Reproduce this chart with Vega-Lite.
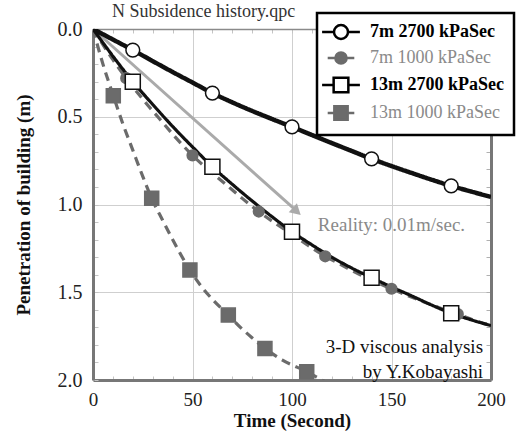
{
  "$schema": "https://vega.github.io/schema/vega-lite/v6.json",
  "width": 398,
  "height": 351,
  "autosize": {"type": "none"},
  "padding": {"left": 93, "top": 29, "right": 26, "bottom": 54},
  "background": "white",
  "config": {"view": {"stroke": null}, "font": "Liberation Serif", "title": {"font": "Liberation Serif", "fontSize": 18, "fontWeight": "normal", "color": "#333"}},
  "title": {"text": "N Subsidence history.qpc", "anchor": "start", "frame": "group", "dx": 19, "dy": 9, "offset": 0, "font": "Liberation Serif", "fontSize": 18, "fontWeight": "normal", "color": "#333"},
  "datasets": {
    "curves": [
      {"series": "7m 1000 kPaSec", "t": 0, "d": 0},
      {"series": "7m 1000 kPaSec", "t": 10, "d": 0.175},
      {"series": "7m 1000 kPaSec", "t": 16.7, "d": 0.28},
      {"series": "7m 1000 kPaSec", "t": 25, "d": 0.4},
      {"series": "7m 1000 kPaSec", "t": 33.3, "d": 0.51},
      {"series": "7m 1000 kPaSec", "t": 41.7, "d": 0.62},
      {"series": "7m 1000 kPaSec", "t": 50, "d": 0.72},
      {"series": "7m 1000 kPaSec", "t": 58.3, "d": 0.805},
      {"series": "7m 1000 kPaSec", "t": 66.7, "d": 0.885},
      {"series": "7m 1000 kPaSec", "t": 75, "d": 0.965},
      {"series": "7m 1000 kPaSec", "t": 83.3, "d": 1.04},
      {"series": "7m 1000 kPaSec", "t": 91.7, "d": 1.108},
      {"series": "7m 1000 kPaSec", "t": 100, "d": 1.17},
      {"series": "7m 1000 kPaSec", "t": 108.3, "d": 1.235},
      {"series": "7m 1000 kPaSec", "t": 116.7, "d": 1.295},
      {"series": "7m 1000 kPaSec", "t": 125, "d": 1.345},
      {"series": "7m 1000 kPaSec", "t": 133.3, "d": 1.395},
      {"series": "7m 1000 kPaSec", "t": 141.7, "d": 1.44},
      {"series": "7m 1000 kPaSec", "t": 150, "d": 1.48},
      {"series": "7m 1000 kPaSec", "t": 158.3, "d": 1.52},
      {"series": "7m 1000 kPaSec", "t": 166.7, "d": 1.557},
      {"series": "7m 1000 kPaSec", "t": 175, "d": 1.592},
      {"series": "7m 1000 kPaSec", "t": 183.3, "d": 1.625},
      {"series": "7m 1000 kPaSec", "t": 191.7, "d": 1.66},
      {"series": "7m 1000 kPaSec", "t": 200, "d": 1.69},
      {"series": "13m 1000 kPaSec", "t": 0, "d": 0},
      {"series": "13m 1000 kPaSec", "t": 5, "d": 0.2},
      {"series": "13m 1000 kPaSec", "t": 10.2, "d": 0.38},
      {"series": "13m 1000 kPaSec", "t": 15, "d": 0.54},
      {"series": "13m 1000 kPaSec", "t": 20, "d": 0.69},
      {"series": "13m 1000 kPaSec", "t": 25, "d": 0.84},
      {"series": "13m 1000 kPaSec", "t": 29.5, "d": 0.965},
      {"series": "13m 1000 kPaSec", "t": 35, "d": 1.09},
      {"series": "13m 1000 kPaSec", "t": 40, "d": 1.2},
      {"series": "13m 1000 kPaSec", "t": 48.7, "d": 1.373},
      {"series": "13m 1000 kPaSec", "t": 55, "d": 1.475},
      {"series": "13m 1000 kPaSec", "t": 60, "d": 1.54},
      {"series": "13m 1000 kPaSec", "t": 68, "d": 1.63},
      {"series": "13m 1000 kPaSec", "t": 75, "d": 1.71},
      {"series": "13m 1000 kPaSec", "t": 80, "d": 1.76},
      {"series": "13m 1000 kPaSec", "t": 86.4, "d": 1.82},
      {"series": "13m 1000 kPaSec", "t": 95, "d": 1.885},
      {"series": "13m 1000 kPaSec", "t": 107.4, "d": 1.953},
      {"series": "13m 1000 kPaSec", "t": 115, "d": 2.0},
      {"series": "13m 1000 kPaSec", "t": 120, "d": 2.03},
      {"series": "7m 2700 kPaSec", "t": 0, "d": 0},
      {"series": "7m 2700 kPaSec", "t": 10, "d": 0.06},
      {"series": "7m 2700 kPaSec", "t": 20, "d": 0.12},
      {"series": "7m 2700 kPaSec", "t": 30, "d": 0.183},
      {"series": "7m 2700 kPaSec", "t": 40, "d": 0.245},
      {"series": "7m 2700 kPaSec", "t": 50, "d": 0.305},
      {"series": "7m 2700 kPaSec", "t": 60, "d": 0.365},
      {"series": "7m 2700 kPaSec", "t": 70, "d": 0.418},
      {"series": "7m 2700 kPaSec", "t": 80, "d": 0.467},
      {"series": "7m 2700 kPaSec", "t": 90, "d": 0.513},
      {"series": "7m 2700 kPaSec", "t": 100, "d": 0.558},
      {"series": "7m 2700 kPaSec", "t": 110, "d": 0.604},
      {"series": "7m 2700 kPaSec", "t": 120, "d": 0.65},
      {"series": "7m 2700 kPaSec", "t": 130, "d": 0.695},
      {"series": "7m 2700 kPaSec", "t": 140, "d": 0.74},
      {"series": "7m 2700 kPaSec", "t": 150, "d": 0.781},
      {"series": "7m 2700 kPaSec", "t": 160, "d": 0.82},
      {"series": "7m 2700 kPaSec", "t": 170, "d": 0.858},
      {"series": "7m 2700 kPaSec", "t": 180, "d": 0.894},
      {"series": "7m 2700 kPaSec", "t": 190, "d": 0.926},
      {"series": "7m 2700 kPaSec", "t": 200, "d": 0.957},
      {"series": "13m 2700 kPaSec", "t": 0, "d": 0},
      {"series": "13m 2700 kPaSec", "t": 10, "d": 0.155},
      {"series": "13m 2700 kPaSec", "t": 20, "d": 0.3},
      {"series": "13m 2700 kPaSec", "t": 30, "d": 0.43},
      {"series": "13m 2700 kPaSec", "t": 40, "d": 0.555},
      {"series": "13m 2700 kPaSec", "t": 50, "d": 0.672},
      {"series": "13m 2700 kPaSec", "t": 60, "d": 0.785},
      {"series": "13m 2700 kPaSec", "t": 70, "d": 0.885},
      {"series": "13m 2700 kPaSec", "t": 80, "d": 0.98},
      {"series": "13m 2700 kPaSec", "t": 90, "d": 1.07},
      {"series": "13m 2700 kPaSec", "t": 100, "d": 1.155},
      {"series": "13m 2700 kPaSec", "t": 110, "d": 1.23},
      {"series": "13m 2700 kPaSec", "t": 120, "d": 1.3},
      {"series": "13m 2700 kPaSec", "t": 130, "d": 1.362},
      {"series": "13m 2700 kPaSec", "t": 140, "d": 1.417},
      {"series": "13m 2700 kPaSec", "t": 150, "d": 1.47},
      {"series": "13m 2700 kPaSec", "t": 160, "d": 1.52},
      {"series": "13m 2700 kPaSec", "t": 170, "d": 1.572},
      {"series": "13m 2700 kPaSec", "t": 180, "d": 1.62},
      {"series": "13m 2700 kPaSec", "t": 190, "d": 1.657},
      {"series": "13m 2700 kPaSec", "t": 200, "d": 1.69}
    ],
    "markers": [
      {"series": "7m 1000 kPaSec", "t": 16.7, "d": 0.28},
      {"series": "7m 1000 kPaSec", "t": 50, "d": 0.72},
      {"series": "7m 1000 kPaSec", "t": 83.3, "d": 1.04},
      {"series": "7m 1000 kPaSec", "t": 116.7, "d": 1.295},
      {"series": "7m 1000 kPaSec", "t": 150, "d": 1.48},
      {"series": "7m 1000 kPaSec", "t": 183.3, "d": 1.625},
      {"series": "13m 1000 kPaSec", "t": 10.2, "d": 0.38},
      {"series": "13m 1000 kPaSec", "t": 29.5, "d": 0.965},
      {"series": "13m 1000 kPaSec", "t": 48.7, "d": 1.373},
      {"series": "13m 1000 kPaSec", "t": 68, "d": 1.63},
      {"series": "13m 1000 kPaSec", "t": 86.4, "d": 1.82},
      {"series": "13m 1000 kPaSec", "t": 107.4, "d": 1.953},
      {"series": "7m 2700 kPaSec", "t": 20, "d": 0.12},
      {"series": "7m 2700 kPaSec", "t": 60, "d": 0.365},
      {"series": "7m 2700 kPaSec", "t": 100, "d": 0.558},
      {"series": "7m 2700 kPaSec", "t": 140, "d": 0.74},
      {"series": "7m 2700 kPaSec", "t": 180, "d": 0.894},
      {"series": "13m 2700 kPaSec", "t": 20, "d": 0.3},
      {"series": "13m 2700 kPaSec", "t": 60, "d": 0.785},
      {"series": "13m 2700 kPaSec", "t": 100, "d": 1.155},
      {"series": "13m 2700 kPaSec", "t": 140, "d": 1.417},
      {"series": "13m 2700 kPaSec", "t": 180, "d": 1.62}
    ],
    "arrow": [
      {"t": 0, "d": 0},
      {"t": 101.3, "d": 1.027}
    ],
    "arrowhead": [
      {"t": 102.4, "d": 1.039}
    ],
    "notesLeft": [
      {"t": 113, "d": 1.117, "label": "Reality: 0.01m/sec."}
    ],
    "notesRight": [
      {"t": 196, "d": 1.812, "label": "3-D viscous analysis"},
      {"t": 196, "d": 1.954, "label": "by Y.Kobayashi"}
    ]
  },
  "layer": [
    {
      "data": {"name": "arrow"},
      "mark": {"type": "line", "color": "#aaaaaa", "strokeWidth": 3, "strokeCap": "butt"},
      "encoding": {
        "x": {"field": "t", "type": "quantitative", "axis": null},
        "y": {"field": "d", "type": "quantitative", "axis": null}
      }
    },
    {
      "data": {"name": "arrowhead"},
      "mark": {"type": "point", "shape": "triangle-up", "filled": true, "color": "#aaaaaa", "opacity": 1, "size": 150, "angle": 132},
      "encoding": {
        "x": {"field": "t", "type": "quantitative", "axis": null},
        "y": {"field": "d", "type": "quantitative", "axis": null}
      }
    },
    {
      "data": {"name": "curves"},
      "mark": {"type": "line", "clip": true, "strokeCap": "butt", "strokeJoin": "round", "interpolate": "monotone"},
      "encoding": {
        "x": {
          "field": "t", "type": "quantitative",
          "scale": {"domain": [0, 200], "nice": false},
          "axis": {
            "orient": "bottom",
            "values": [0, 10, 20, 30, 40, 50, 60, 70, 80, 90, 100, 110, 120, 130, 140, 150, 160, 170, 180, 190, 200],
            "labelExpr": "datum.value % 50 == 0 ? datum.label : ''",
            "title": "Time (Second)", "titleFont": "Liberation Serif", "titleFontSize": 19, "titleFontWeight": "bold", "titleColor": "#111", "titlePadding": 2,
            "labelFont": "Liberation Serif", "labelFontSize": 19, "labelColor": "#222", "labelPadding": 14, "labelOverlap": false, "labelFlush": false,
            "ticks": true, "tickSize": -4, "tickColor": "#c4c4c4",
            "domainColor": "#777777", "domainWidth": 3,
            "grid": true, "gridColor": "#cfcfcf",
            "gridOpacity": {"condition": {"test": "datum.value % 50 == 0", "value": 1}, "value": 0}
          }
        },
        "y": {
          "field": "d", "type": "quantitative",
          "scale": {"domain": [0, 2], "reverse": true, "nice": false},
          "axis": {
            "orient": "left",
            "values": [0, 0.1, 0.2, 0.3, 0.4, 0.5, 0.6, 0.7, 0.8, 0.9, 1, 1.1, 1.2, 1.3, 1.4, 1.5, 1.6, 1.7, 1.8, 1.9, 2],
            "labelExpr": "abs(datum.value * 2 - round(datum.value * 2)) < 0.001 ? format(datum.value, '.1f') : ''",
            "title": "Penetration of building (m)", "titleFont": "Liberation Serif", "titleFontSize": 19, "titleFontWeight": "bold", "titleColor": "#111", "titlePadding": 24,
            "labelFont": "Liberation Serif", "labelFontSize": 20, "labelColor": "#222", "labelPadding": 16, "labelOverlap": false, "labelFlush": false,
            "ticks": true, "tickSize": -5, "tickColor": "#c4c4c4",
            "domainColor": "#777777", "domainWidth": 3,
            "grid": true, "gridColor": "#cfcfcf",
            "gridOpacity": {"condition": {"test": "abs(datum.value * 2 - round(datum.value * 2)) < 0.001", "value": 1}, "value": 0}
          }
        },
        "detail": {"field": "series", "type": "nominal"},
        "stroke": {"condition": {"test": "indexof(datum.series, '1000') >= 0", "value": "#6b6b6b"}, "value": "#111111"},
        "strokeWidth": {"condition": {"test": "datum.series == '7m 2700 kPaSec'", "value": 4.5}, "value": 3.2},
        "strokeDash": {"condition": {"test": "indexof(datum.series, '1000') >= 0", "value": [9, 6]}, "value": [1, 0]}
      }
    },
    {
      "data": {"name": "markers"},
      "mark": {"type": "point", "filled": true, "opacity": 1, "strokeWidth": 1.5},
      "encoding": {
        "x": {
          "field": "t", "type": "quantitative",
          "axis": {
            "orient": "top",
            "values": [10, 20, 30, 40, 50, 60, 70, 80, 90, 100, 110, 120, 130, 140, 150, 160, 170, 180, 190],
            "labels": false, "title": null, "grid": false,
            "ticks": true, "tickSize": -4, "tickColor": "#c4c4c4",
            "domainColor": "#8a8a8a", "domainWidth": 1.5
          }
        },
        "y": {
          "field": "d", "type": "quantitative",
          "axis": {
            "orient": "right",
            "values": [0.1, 0.2, 0.3, 0.4, 0.5, 0.6, 0.7, 0.8, 0.9, 1, 1.1, 1.2, 1.3, 1.4, 1.5, 1.6, 1.7, 1.8, 1.9],
            "labels": false, "title": null, "grid": false,
            "ticks": true, "tickSize": -5, "tickColor": "#b0b0b0",
            "domainColor": "#777777", "domainWidth": 3
          }
        },
        "color": {
          "field": "series", "type": "nominal",
          "scale": {"domain": ["7m 2700 kPaSec", "7m 1000 kPaSec", "13m 2700 kPaSec", "13m 1000 kPaSec"], "range": ["#ffffff", "#6b6b6b", "#ffffff", "#6b6b6b"]},
          "legend": {
            "orient": "none", "legendX": 224, "legendY": -16, "title": null, "zindex": 1,
            "padding": 10, "rowPadding": 3,
            "fillColor": "#ffffff", "strokeColor": "#000000",
            "labelFont": "Liberation Serif", "labelFontSize": 18, "labelOffset": 20, "labelLimit": 300,
            "symbolSize": 196, "symbolOffset": 5, "symbolStrokeWidth": 2.5,
            "encoding": {
              "legend": {"strokeWidth": {"value": 2.5}},
              "labels": {
                "fill": {"condition": {"test": "indexof(datum.value, '1000') >= 0", "value": "#8a8a8a"}, "value": "#000000"},
                "fontWeight": {"condition": {"test": "indexof(datum.value, '1000') >= 0", "value": "normal"}, "value": "bold"}
              },
              "symbols": {
                "shape": {
                  "condition": [
                    {"test": "datum.value == '7m 2700 kPaSec'", "value": "M-2.7,0H-1M1,0H2.7M1,0A1,1,0,1,1,-1,0A1,1,0,1,1,1,0Z"},
                    {"test": "datum.value == '7m 1000 kPaSec'", "value": "M-1.9,0H-0.8M0.8,0H1.9M0.8,0A0.8,0.8,0,1,1,-0.8,0A0.8,0.8,0,1,1,0.8,0Z"},
                    {"test": "datum.value == '13m 2700 kPaSec'", "value": "M-2.7,0H-1.05M1.05,0H2.7M-1.05,-1.05H1.05V1.05H-1.05Z"}
                  ],
                  "value": "M-1.9,0H-0.95M0.95,0H1.9M-0.95,-0.95H0.95V0.95H-0.95Z"
                },
                "stroke": {"condition": {"test": "indexof(datum.value, '1000') >= 0", "value": "#6b6b6b"}, "value": "#000000"},
                "strokeWidth": {"value": 2.5},
                "opacity": {"value": 1}
              }
            }
          }
        },
        "shape": {"condition": {"test": "indexof(datum.series, '13m') == 0", "value": "square"}, "value": "circle"},
        "stroke": {"condition": {"test": "indexof(datum.series, '1000') >= 0", "value": "#6b6b6b"}, "value": "#111111"},
        "size": {
          "condition": [
            {"test": "datum.series == '7m 2700 kPaSec'", "value": 190},
            {"test": "datum.series == '7m 1000 kPaSec'", "value": 115},
            {"test": "datum.series == '13m 2700 kPaSec'", "value": 225}
          ],
          "value": 196
        }
      }
    },
    {
      "data": {"name": "notesLeft"},
      "mark": {"type": "text", "align": "left", "baseline": "middle", "font": "Liberation Serif", "fontSize": 19, "color": "#8a8a8a"},
      "encoding": {
        "x": {"field": "t", "type": "quantitative", "axis": null},
        "y": {"field": "d", "type": "quantitative", "axis": null},
        "text": {"field": "label"}
      }
    },
    {
      "data": {"name": "notesRight"},
      "mark": {"type": "text", "align": "right", "baseline": "middle", "font": "Liberation Serif", "fontSize": 19, "color": "#111111"},
      "encoding": {
        "x": {"field": "t", "type": "quantitative", "axis": null},
        "y": {"field": "d", "type": "quantitative", "axis": null},
        "text": {"field": "label"}
      }
    }
  ],
  "resolve": {"axis": {"x": "independent", "y": "independent"}}
}
